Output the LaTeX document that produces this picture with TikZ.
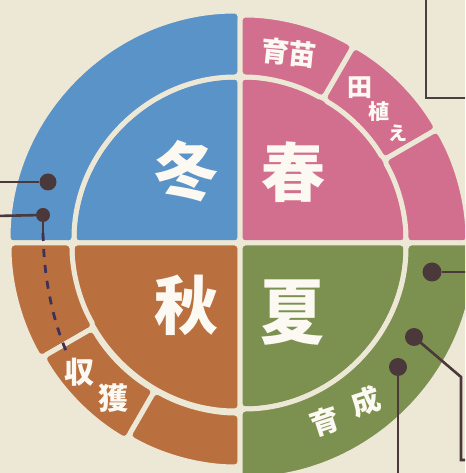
\documentclass[tikz,border=0pt]{standalone}
\usepackage{fontspec}
\newfontfamily\cjk{Noto Sans CJK JP}
\usetikzlibrary{calc}
\definecolor{bg}{RGB}{237,231,214}
\definecolor{winter}{RGB}{90,147,200}
\definecolor{spring}{RGB}{210,111,143}
\definecolor{autumn}{RGB}{186,112,62}
\definecolor{summer}{RGB}{124,145,80}
\definecolor{ink}{RGB}{74,56,58}
\definecolor{boxline}{RGB}{70,66,66}
\definecolor{txt}{RGB}{252,248,242}
\newcommand\ringpiece[5]{%
  \filldraw[piece,fill=#1] ($(C)+(#2:#4)$) arc[start angle=#2,end angle=#3,radius=#4]
    -- ($(C)+(#3:#5)$) arc[start angle=#3,end angle=#2,radius=#5] -- cycle;}
\newcommand\quadpiece[4]{%
  \filldraw[piece,fill=#1] (C) -- ($(C)+(#2:#4)$) arc[start angle=#2,end angle=#3,radius=#4] -- cycle;}
\begin{document}
\begin{tikzpicture}[x=1pt,y=1pt,
  piece/.style={draw=bg,line width=5pt,rounded corners=5pt},
  dotnode/.style={circle,fill=ink,inner sep=0pt,minimum size=#1},
  dotnode/.default=17pt,
  conn/.style={draw=ink,line width=2.6pt},
  dashconn/.style={draw=ink!85!blue,line width=2.8pt,dash pattern=on 8pt off 8pt},
  big/.style={text=txt,font=\cjk\bfseries\fontsize{64}{64}\selectfont,inner sep=0pt},
  small/.style={text=txt,font=\cjk\bfseries\fontsize{#1}{#1}\selectfont,inner sep=0pt},
  small/.default=25,
]
\useasboundingbox (0,0) rectangle (465,473);
\fill[bg] (0,0) rectangle (465,473);
\clip (0,0) rectangle (465,473);
\coordinate (C) at (240,230);
% inner quadrants
\quadpiece{winter}{90}{180}{166}
\quadpiece{spring}{0}{90}{166}
\quadpiece{autumn}{180}{270}{168}
\quadpiece{summer}{270}{360}{166}
% outer ring
\ringpiece{winter}{90}{180}{232}{166}
\ringpiece{spring}{60}{90}{228}{166}
\ringpiece{spring}{30}{60}{228}{166}
\ringpiece{spring}{0}{30}{228}{166}
\ringpiece{autumn}{180}{210}{231}{168}
\ringpiece{autumn}{210}{240}{228}{170}
\ringpiece{autumn}{240}{270}{224}{170}
\ringpiece{summer}{270}{360}{236}{166}
% big season labels
\node[big] (winterlbl) at (186,302) {冬};
\node[big] (springlbl) at (293,301) {春};
\node[big] (autumnlbl) at (186,168) {秋};
\node[big,yscale=1.12] (summerlbl) at (292,160) {夏};
% small labels
\node[small=28,rotate=-6] (ikubyo) at (289,420) {育苗};
\node[small=25] (ta) at (360,385) {田};
\node[small=21] (ue) at (379,361) {植};
\node[small=19] (e) at (398,340) {え};
\node[small=30] (shu) at (79,101) {収};
\node[small=30] (kaku) at (113,75) {獲};
\node[small=29,rotate=18] (iku) at (325,51) {育};
\node[small=29,rotate=18] (sei) at (366,71) {成};
% top-right box corner
\coordinate (boxtop) at (426,480);
\coordinate (boxcorner) at (426,375);
\coordinate (boxright) at (470,375);
\draw[boxline,line width=2.4pt] (boxtop) -- (boxcorner) -- (boxright);
% left dots
\node[dotnode=17pt] (l1) at (48,291) {};
\node[dotnode=14pt] (l2) at (43,258) {};
\coordinate (l1end) at (-5,291);
\coordinate (l2end) at (-5,257);
\draw[conn] (l1) -- (l1end);
\draw[conn] (l2) -- (l2end);
\coordinate (l2b) at (43,240);
\coordinate (l2e) at (67,120);
\draw[conn] (l2.center) -- (l2b);
\draw[dashconn] (l2b) .. controls (44,190) and (54,150) .. (l2e);
% right dots
\node[dotnode=19pt] (r1) at (432,201) {};
\coordinate (r1end) at (470,201);
\draw[conn] (r1) -- (r1end);
\node[dotnode=18pt] (r2) at (414,136) {};
\coordinate (r2a) at (461,96);
\coordinate (r2b) at (461,13);
\coordinate (r2end) at (470,13);
\draw[conn] (r2.center) -- (r2a) -- (r2b) -- (r2end);
\node[dotnode=18pt] (r3) at (398,106) {};
\coordinate (r3end) at (398,-5);
\draw[conn] (r3.center) -- (r3end);
\end{tikzpicture}
\end{document}
